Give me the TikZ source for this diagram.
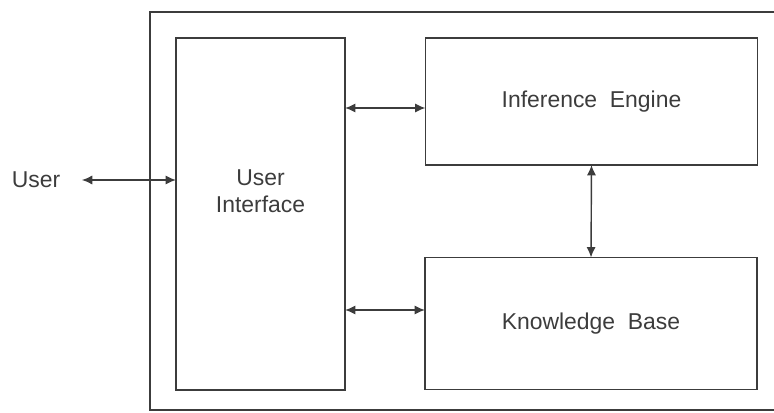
\documentclass[tikz,border=0pt]{standalone}
\usepackage{fontspec}
\setmainfont{Liberation Sans}
\usetikzlibrary{arrows.meta}
\definecolor{ink}{HTML}{3C3C3C}
\tikzset{
	block/.style={draw=ink, line width=1pt, inner sep=0pt, outer sep=0pt, text=ink},
	link/.style={{Latex[length=2.6mm,width=2.3mm]}-{Latex[length=2.6mm,width=2.3mm]}, draw=ink, line width=1pt}
}
\begin{document}
\begin{tikzpicture}[x=0.025cm,y=-0.025cm,font=\fontsize{16.3}{19.2}\selectfont]
	\useasboundingbox (0,0) rectangle (774,413);
	% frame round the system, cut off at the right edge
	\draw[ink, line width=1pt] (774,12) -- (150,12) -- (150,410) -- (774,410);

	\node[block, minimum width=4.225cm, minimum height=8.8cm,
		label={[name=uilabel, align=center, text=ink, yshift=0.575cm]center:User\\Interface}] (ui) at (260.5,214) {};
	\node[block, minimum width=8.3cm, minimum height=3.175cm] (ie) at (591.5,101.5) {Inference\ \ Engine};
	\node[block, minimum width=8.3cm, minimum height=3.3cm] (kb) at (591,323.5) {Knowledge\ \ Base};
	\node[text=ink, inner sep=1pt] (user) at (36,180) {User};

	\draw[link] (user.east) ++(20,0) coordinate (userend) -- (userend -| ui.west);
	\draw[link] (ui.east |- 0,108) -- (ie.west |- 0,108);
	\draw[link] (ui.east |- 0,310) -- (kb.west |- 0,310);
	\draw[link] (ie.south) -- (kb.north);
\end{tikzpicture}
\end{document}
